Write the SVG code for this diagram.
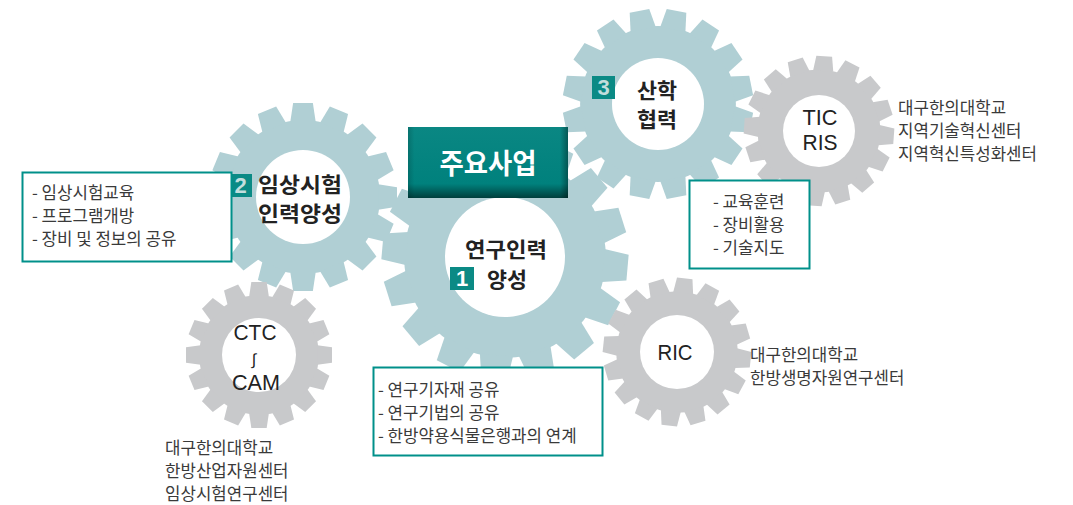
<svg xmlns="http://www.w3.org/2000/svg" xmlns:xlink="http://www.w3.org/1999/xlink" width="1073" height="505" viewBox="0 0 1073 505">
<style>
.teal{fill:#b0cfd4}
.gray{fill:#c8c9cb}
.hole{fill:#ffffff}
.kr{font-family:"Noto Sans CJK KR","Noto Sans",sans-serif}
.lat{font-family:"Liberation Sans",Arial,sans-serif}
.glabel{font-size:21px;font-weight:700;fill:#222222;text-anchor:middle}
.elabel{font-size:22px;fill:#222222;text-anchor:middle}
.item{font-size:16.8px;fill:#3a3a3a}
.box{fill:#ffffff;stroke:#00908a;stroke-width:2}
.num{fill:#0b8a85}
.numt{font-family:"Liberation Sans",Arial,sans-serif;font-size:22px;font-weight:700;text-anchor:middle}
</style>
<defs>
<path id="tooth" d="M-13.5,-80 L-10.5,-100 L10.5,-100 L13.5,-80 Z"/>
<g id="gear">
<circle r="82"/>
<use href="#tooth"/>
<use href="#tooth" transform="rotate(22.5)"/>
<use href="#tooth" transform="rotate(45)"/>
<use href="#tooth" transform="rotate(67.5)"/>
<use href="#tooth" transform="rotate(90)"/>
<use href="#tooth" transform="rotate(112.5)"/>
<use href="#tooth" transform="rotate(135)"/>
<use href="#tooth" transform="rotate(157.5)"/>
<use href="#tooth" transform="rotate(180)"/>
<use href="#tooth" transform="rotate(202.5)"/>
<use href="#tooth" transform="rotate(225)"/>
<use href="#tooth" transform="rotate(247.5)"/>
<use href="#tooth" transform="rotate(270)"/>
<use href="#tooth" transform="rotate(292.5)"/>
<use href="#tooth" transform="rotate(315)"/>
<use href="#tooth" transform="rotate(337.5)"/>
</g>
<linearGradient id="tgrad" x1="0" y1="0" x2="0" y2="1">
<stop offset="0" stop-color="#0a8783"/>
<stop offset="0.8" stop-color="#00817d"/>
<stop offset="1" stop-color="#003f3d"/>
</linearGradient>
<linearGradient id="tside" x1="0" y1="0" x2="1" y2="0">
<stop offset="0" stop-color="#000" stop-opacity="0.15"/>
<stop offset="0.04" stop-color="#000" stop-opacity="0"/>
<stop offset="0.95" stop-color="#000" stop-opacity="0"/>
<stop offset="1" stop-color="#000" stop-opacity="0.35"/>
</linearGradient>
</defs>

<g id="gear-clinical">
<use href="#gear" class="teal" transform="translate(303,197) scale(0.94)"/>
<circle class="hole" cx="303" cy="197" r="47"/>
</g>
<g id="gear-research">
<use href="#gear" class="teal" transform="translate(505,257) scale(1.23) rotate(5)"/>
<circle class="hole" cx="505" cy="257" r="60"/>
</g>
<g id="gear-industry">
<use href="#gear" class="teal" transform="translate(658,104) scale(0.95) rotate(11.25)"/>
<circle class="hole" cx="658" cy="104" r="46"/>
</g>
<g id="gear-ctc">
<use href="#gear" class="gray" transform="translate(259,355) scale(0.73)"/>
<circle class="hole" cx="259" cy="355" r="37"/>
<text class="lat elabel" x="255" y="340" textLength="43" lengthAdjust="spacingAndGlyphs">CTC</text>
<text class="lat" x="254" y="365" font-size="16" fill="#222" text-anchor="middle">∫</text>
<text class="lat elabel" x="256" y="390" textLength="48" lengthAdjust="spacingAndGlyphs">CAM</text>
</g>
<g id="gear-ric">
<use href="#gear" class="gray" transform="translate(677,352) scale(0.74) rotate(6)"/>
<circle class="hole" cx="677" cy="352" r="37"/>
<text class="lat elabel" x="675" y="360" textLength="35" lengthAdjust="spacingAndGlyphs">RIC</text>
</g>
<g id="gear-tic">
<use href="#gear" class="gray" transform="translate(819,131) scale(0.75) rotate(4)"/>
<circle class="hole" cx="819" cy="131" r="36"/>
<text class="lat elabel" x="820" y="125" textLength="35" lengthAdjust="spacingAndGlyphs">TIC</text>
<text class="lat elabel" x="820" y="150" textLength="35" lengthAdjust="spacingAndGlyphs">RIS</text>
</g>

<g id="label-research">
<text class="kr glabel" x="506" y="257" textLength="82" lengthAdjust="spacingAndGlyphs">연구인력</text>
<text class="kr glabel" x="507" y="287" textLength="40" lengthAdjust="spacingAndGlyphs">양성</text>
<rect class="num" x="450" y="267" width="24" height="23"/>
<text class="numt" x="462" y="286" fill="#ffffff">1</text>
</g>
<g id="label-clinical">
<text class="kr glabel" x="300" y="192" textLength="84" lengthAdjust="spacingAndGlyphs">임상시험</text>
<text class="kr glabel" x="300" y="221" textLength="84" lengthAdjust="spacingAndGlyphs">인력양성</text>
<rect class="num" x="229" y="174" width="23" height="23"/>
<text class="numt" x="240.5" y="193" fill="#c2dedd">2</text>
</g>
<g id="label-industry">
<text class="kr glabel" x="657" y="98" textLength="40" lengthAdjust="spacingAndGlyphs">산학</text>
<text class="kr glabel" x="657" y="127" textLength="40" lengthAdjust="spacingAndGlyphs">협력</text>
<rect class="num" x="592" y="76" width="23" height="23"/>
<text class="numt" x="603.5" y="95" fill="#c2dedd">3</text>
</g>

<g id="title">
<rect x="408" y="127" width="160" height="71" fill="url(#tgrad)"/>
<rect x="408" y="127" width="160" height="71" fill="url(#tside)"/>
<text class="kr" x="488" y="174" font-size="28" font-weight="700" fill="#ffffff" text-anchor="middle" textLength="97" lengthAdjust="spacingAndGlyphs">주요사업</text>
</g>

<g id="list-clinical">
<rect class="box" x="22.5" y="172.5" width="209" height="89"/>
<text class="kr item" x="32" y="199">- 임상시험교육</text>
<text class="kr item" x="32" y="222">- 프로그램개방</text>
<text class="kr item" x="32" y="245">- 장비 및 정보의 공유</text>
</g>
<g id="list-research">
<rect class="box" x="373.5" y="367.5" width="229" height="88"/>
<text class="kr item" x="378" y="396">- 연구기자재 공유</text>
<text class="kr item" x="378" y="419">- 연구기법의 공유</text>
<text class="kr item" x="378" y="442">- 한방약용식물은행과의 연계</text>
</g>
<g id="list-industry">
<rect class="box" x="689.5" y="180.5" width="120" height="88"/>
<text class="kr item" x="713" y="208">- 교육훈련</text>
<text class="kr item" x="713" y="231">- 장비활용</text>
<text class="kr item" x="713" y="254">- 기술지도</text>
</g>

<g id="note-tic">
<text class="kr item" x="898" y="114">대구한의대학교</text>
<text class="kr item" x="898" y="137">지역기술혁신센터</text>
<text class="kr item" x="898" y="160">지역혁신특성화센터</text>
</g>
<g id="note-ric">
<text class="kr item" x="750" y="361">대구한의대학교</text>
<text class="kr item" x="750" y="384">한방생명자원연구센터</text>
</g>
<g id="note-ctc">
<text class="kr item" x="165" y="454">대구한의대학교</text>
<text class="kr item" x="165" y="477">한방산업자원센터</text>
<text class="kr item" x="165" y="500">임상시험연구센터</text>
</g>
<g id="connectors"/>
</svg>
